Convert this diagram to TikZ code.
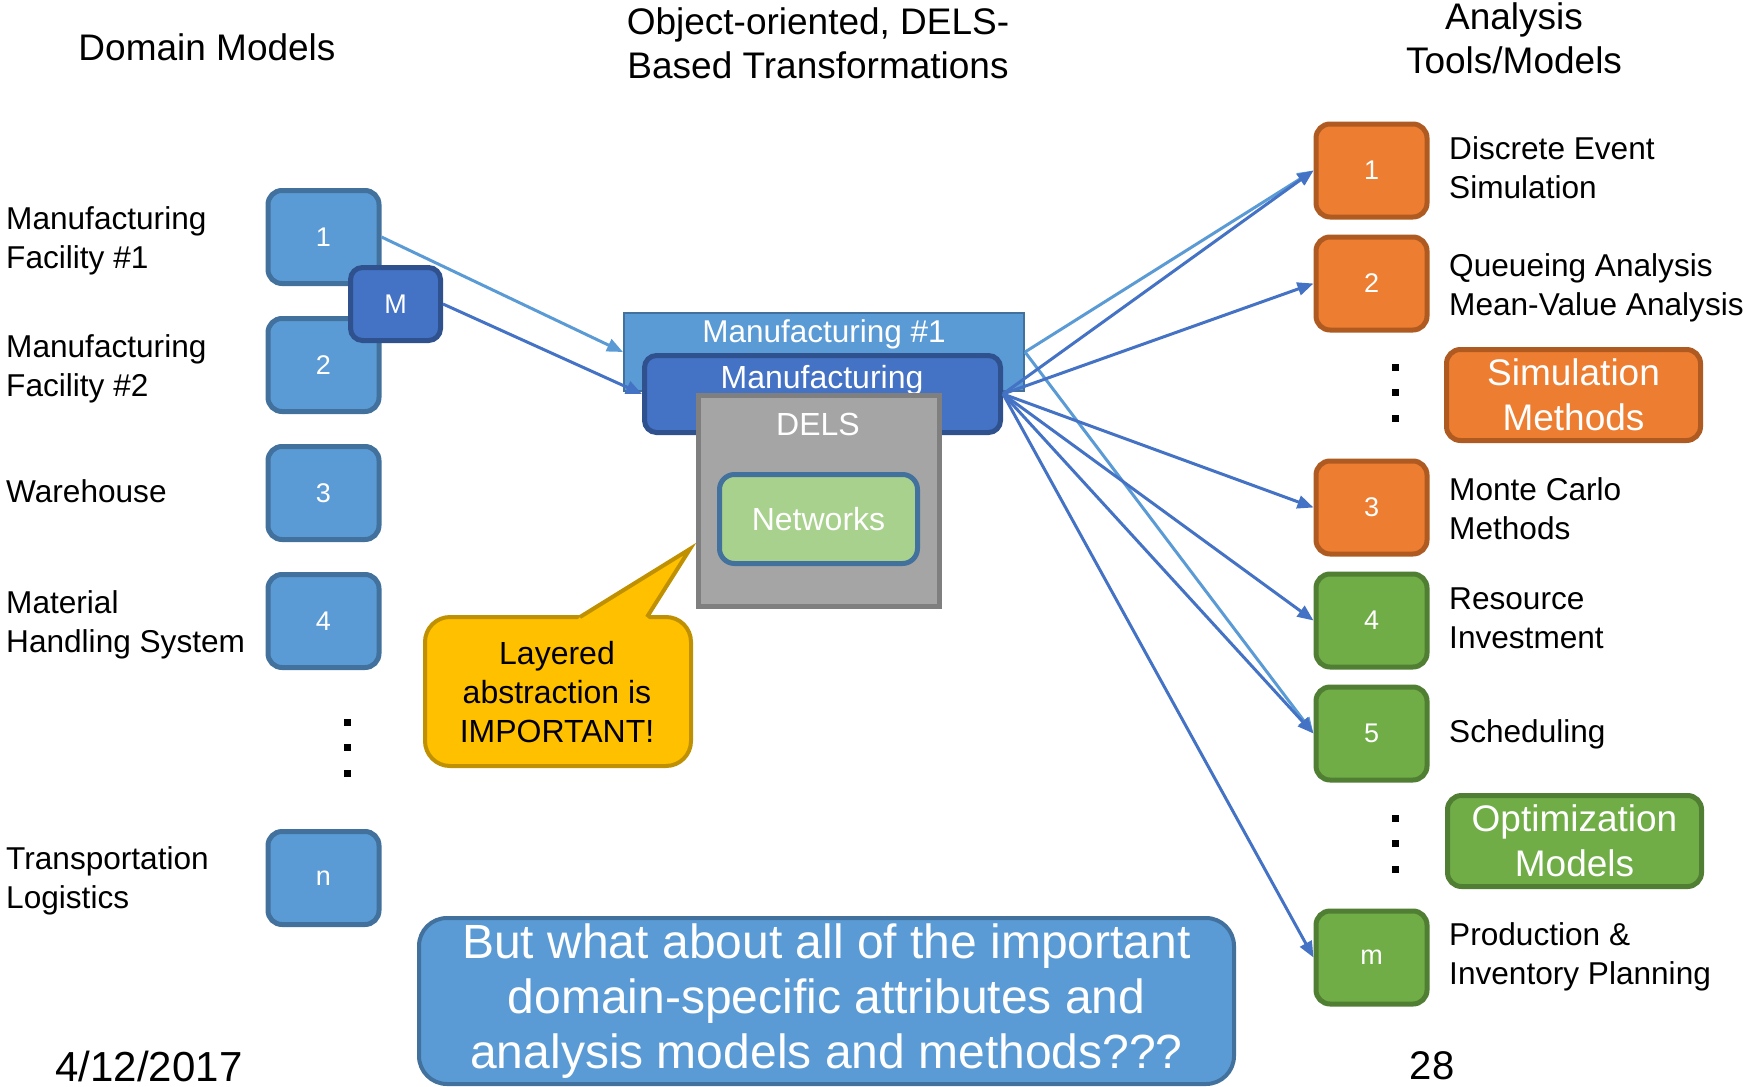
\documentclass[tikz,border=0pt]{standalone}
\usepackage{fontspec}
\setmainfont{Liberation Sans}
\usetikzlibrary{arrows.meta}
\definecolor{blueF}{HTML}{5B9BD5}
\definecolor{blueD}{HTML}{41719C}
\definecolor{darkF}{HTML}{4472C4}
\definecolor{darkD}{HTML}{2F528F}
\definecolor{orF}{HTML}{ED7D31}
\definecolor{orD}{HTML}{AE5A21}
\definecolor{grF}{HTML}{70AD47}
\definecolor{grD}{HTML}{507E32}
\definecolor{grayF}{HTML}{A5A5A5}
\definecolor{grayD}{HTML}{7F7F7F}
\definecolor{netF}{HTML}{A9D18E}
\definecolor{yelF}{HTML}{FFC000}
\definecolor{yelD}{HTML}{BF9000}
\newcommand{\myfs}[2]{\fontsize{#1}{#2}\selectfont}
\begin{document}
\begin{tikzpicture}[x=1pt,y=-1pt,
  lbox/.style={rectangle, rounded corners=14pt, fill=blueF, draw=blueD, line width=5pt,
    minimum width=111pt, minimum height=93pt, text=white, font=\myfs{27}{32}, inner sep=0pt},
  obox/.style={lbox, fill=orF, draw=orD},
  gbox/.style={lbox, fill=grF, draw=grD},
  mbox/.style={lbox, fill=darkF, draw=darkD, rounded corners=12pt, minimum width=90pt, minimum height=73pt},
  bigbox/.style={align=center, font=\myfs{37}{45}, minimum width=254pt, minimum height=91pt},
  lab/.style={anchor=west, align=left, font=\myfs{31.6}{39}, inner sep=0pt},
  head/.style={align=center, font=\myfs{37}{44}, inner sep=0pt},
  wtext/.style={anchor=base, text=white, inner sep=0pt, font=\myfs{32}{38}},
  arr/.style={-{Triangle[length=16pt,width=13pt]}, line width=3pt},
]
\useasboundingbox (0,0) rectangle (1743,1087);

% headers
\node[head] (h1) at (207,47) {Domain Models};
\node[head] (h2) at (818,43) {Object-oriented, DELS-\\Based Transformations};
\node[head] (h3) at (1514,38) {Analysis\\Tools/Models};

% left domain boxes
\node[lbox] (l1) at (323.5,237) {1};
\node[lbox] (l2) at (323.5,365) {2};
\node[lbox] (l3) at (323.5,493) {3};
\node[lbox] (l4) at (323.5,621) {4};
\node[lbox] (ln) at (323.5,878) {n};
\node[mbox] (M) at (395.5,304) {M};

\node[lab] (t1) at (6,241) {Manufacturing\\Facility \#1};
\node[lab] (t2) at (6,369) {Manufacturing\\Facility \#2};
\node[lab] (t3) at (6,491) {Warehouse};
\node[lab] (t4) at (6,625) {Material\\Handling System};
\node[lab] (t5) at (6,881) {Transportation\\Logistics};

\foreach \yy in {722,747,773} \fill (343.5,\yy-3.5) rectangle ++(7,7);

% centre stack
\node[rectangle, fill=blueF, draw=blueD, line width=2pt, minimum width=400pt, minimum height=78pt, inner sep=0pt] (mf1) at (824,352) {};
\node[wtext, font=\myfs{31.5}{37}] (mf1t) at (824,342) {Manufacturing \#1};
\node[rectangle, rounded corners=12pt, fill=darkF, draw=darkD, line width=5pt, minimum width=356pt, minimum height=77pt, inner sep=0pt] (man) at (822.5,394) {};
\node[wtext] (mant) at (822,388) {Manufacturing};
\node[rectangle, fill=grayF, draw=grayD, line width=5pt, minimum width=241pt, minimum height=211pt, inner sep=0pt] (dels) at (819,501) {};
\node[wtext] (delst) at (818,435) {DELS};
\node[rectangle, rounded corners=15pt, fill=netF, draw=blueD, line width=5pt, minimum width=198pt, minimum height=89pt, inner sep=0pt, text=white, font=\myfs{32}{38}] (net) at (818.5,519) {Networks};

% callout
\draw[fill=yelF, draw=yelD, line width=4pt, rounded corners=25pt] (425,617) rectangle (691,766);
\fill[yelF] (577,620) -- (580,617) -- (690,549) -- (647,617) -- (650,620) -- cycle;
\draw[yelD, line width=4pt, line join=miter] (580,617) -- (690,549) -- (647,617);
\node[align=center, font=\myfs{32}{39}, inner sep=0pt] (call) at (557,692) {Layered\\abstraction is\\IMPORTANT!};

% right analysis boxes
\node[obox] (r1) at (1371.5,170.5) {1};
\node[obox] (r2) at (1371.5,283.5) {2};
\node[obox] (r3) at (1371.5,507.5) {3};
\node[gbox] (r4) at (1371.5,620.5) {4};
\node[gbox] (r5) at (1371.5,733.5) {5};
\node[gbox] (rm) at (1371.5,957.5) {m};

\node[lab] (s1) at (1449,168) {Discrete Event\\Simulation};
\node[lab] (s2) at (1449,288) {Queueing Analysis\\Mean-Value Analysis};
\node[lab] (s3) at (1449,509) {Monte Carlo\\Methods};
\node[lab] (s4) at (1449,618) {Resource\\Investment};
\node[lab] (s5) at (1449,734) {Scheduling};
\node[lab] (s6) at (1449,957) {Production \&\\Inventory Planning};

\node[obox, bigbox] (simm) at (1573.5,395) {Simulation\\Methods};
\node[gbox, bigbox] (optm) at (1574.5,841) {Optimization\\Models};

\foreach \yy in {367,392,418,818,843,869} \fill (1392,\yy-3.5) rectangle ++(7,7);

% bottom question box
\node[rectangle, rounded corners=28pt, fill=blueF, draw=blueD, line width=4pt, minimum width=815pt, minimum height=166pt, inner sep=0pt, text=white, align=center, font=\myfs{48}{55}] (q) at (826.5,1001) {But what about all of the important\\domain-specific attributes and\\analysis models and methods???};

% footer
\node[font=\myfs{42}{50}, inner sep=0pt] (date) at (149,1066) {4/12/2017};
\node[font=\myfs{40}{48}, inner sep=0pt] (pg) at (1432,1066) {28};

% connectors
\draw[arr, blueF] (l1.east) -- (mf1.west);
\draw[arr, darkF] (M.east) -- (man.west);
\foreach \t in {r1,r5} \draw[arr, blueF] (mf1.east) -- (\t.west);
\foreach \t in {r1,r2,r3,r4,r5,rm} \draw[arr, darkF] (man.east) -- (\t.west);
\end{tikzpicture}
\end{document}
